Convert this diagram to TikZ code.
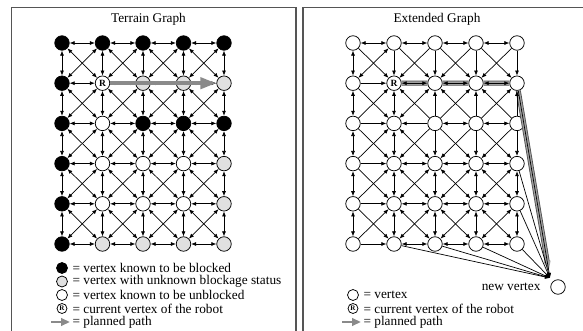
\documentclass[tikz,border=0pt]{standalone}
\usepackage{fontspec}
\setmainfont{Liberation Serif}
\usetikzlibrary{arrows.meta}

\definecolor{Unknown}{RGB}{224,224,224}
\definecolor{PathGray}{RGB}{138,138,138}
\definecolor{FrameGray}{RGB}{85,85,85}

% 0 = blocked, 1 = unknown, 2 = unblocked, 3 = robot
\newcommand\terrainrows{{0,0,0,0,0},{0,3,1,1,1},{0,2,0,0,0},{0,2,2,2,1},{0,2,2,2,1},{0,1,1,1,1}}

% edge of the extended graph: no arrow into a blocked vertex from a free one
\newcommand\extedge[4]{%
  \edef\su{\csname st-#1-#2\endcsname}\edef\sv{\csname st-#3-#4\endcsname}%
  \def\tips{twoway}%
  \ifnum\su>0 \ifnum\sv=0 \def\tips{tostart}\fi\fi
  \ifnum\sv>0 \ifnum\su=0 \def\tips{toend}\fi\fi
  \edef\tmp{\noexpand\draw[edge,\tips] (E-#1-#2) -- (E-#3-#4);}\tmp}

\begin{document}
\begin{tikzpicture}[x=1pt, y=-1pt,
    font=\fontsize{13.3}{13.5}\selectfont,
    vertex/.style={circle, draw, line width=0.75pt, minimum size=14.5pt, inner sep=0pt},
    v0/.style={vertex, fill=black},
    v1/.style={vertex, fill=Unknown},
    v2/.style={vertex, fill=white},
    v3/.style={vertex, fill=white, font=\fontsize{9.5}{9.5}\selectfont\bfseries},
    e0/.style={v2}, e1/.style={v2}, e2/.style={v2}, e3/.style={v3},
    keysym/.style={minimum size=11pt},
    edge/.style={line width=0.7pt},
    twoway/.style={{Latex[length=5pt,width=4pt]}-{Latex[length=5pt,width=4pt]}},
    toend/.style={-{Latex[length=5pt,width=4pt]}},
    tostart/.style={{Latex[length=5pt,width=4pt]}-},
    planl/.style={line width=4.5pt, PathGray, -{Triangle[length=16pt,width=11pt]}},
    keyarrow/.style={line width=2.8pt, PathGray, -{Triangle[length=9pt,width=7.5pt]}},
    frame/.style={line width=1.2pt, FrameGray}
  ]
  \useasboundingbox (0,0) rectangle (583,331);

  % panels
  \draw[frame] (11.5,331) -- (11.5,7.5) -- (296,7.5) -- (296,331);
  \draw[frame] (303,331) -- (303,7.5) -- (583,7.5);
  \node (ltitle) at (148.5,19) {Terrain Graph};
  \node (rtitle) at (437,19) {Extended Graph};

  % vertices of both graphs
  \foreach \row [count=\j from 0] in \terrainrows {
    \foreach \s [count=\i from 0] in \row {
      \expandafter\xdef\csname st-\i-\j\endcsname{\s}
      \node[v\s] (L-\i-\j) at (62+40.5*\i, 43+40.2*\j) {\ifnum\s=3 R\fi};
      \node[e\s] (E-\i-\j) at (353+41*\i, 43+40.2*\j) {\ifnum\s=3 R\fi};
    }
  }
  \coordinate (hub) at (550,278);
  \node[v2] (newv) at (558,287) {};
  \node[anchor=east] (newlabel) at (544,287) {new vertex};

  % planned path in the extended graph
  \draw[line width=5pt, black!70, shorten >=15pt]
    (E-1-1) -- (E-2-1) -- (E-3-1) -- (E-4-1) -- (hub);
  \draw[line width=3.4pt, PathGray!80, shorten >=7pt, -{Triangle[length=10pt,width=6pt]}]
    (E-1-1) -- (E-2-1) -- (E-3-1) -- (E-4-1) -- (hub);

  % edges
  \foreach \i in {0,...,4} {
    \foreach \j in {0,...,5} {
      \pgfmathtruncatemacro\ni{\i+1}
      \pgfmathtruncatemacro\nj{\j+1}
      \pgfmathtruncatemacro\pj{\j-1}
      \ifnum\i<4 \draw[edge,twoway] (L-\i-\j) -- (L-\ni-\j); \extedge{\i}{\j}{\ni}{\j}\fi
      \ifnum\j<5 \draw[edge,twoway] (L-\i-\j) -- (L-\i-\nj); \extedge{\i}{\j}{\i}{\nj}\fi
      \ifnum\i<4 \ifnum\j<5 \draw[edge,twoway] (L-\i-\j) -- (L-\ni-\nj); \extedge{\i}{\j}{\ni}{\nj}\fi\fi
      \ifnum\i<4 \ifnum\j>0 \draw[edge,twoway] (L-\i-\j) -- (L-\ni-\pj); \extedge{\i}{\j}{\ni}{\pj}\fi\fi
    }
  }
  \foreach \a/\b in {4/1,4/3,4/4,4/5,3/5,2/5,1/5}
    \draw[edge,toend] (E-\a-\b) -- (hub);

  % planned path in the terrain graph
  \draw[planl] (L-1-1) -- (L-4-1);

  % legend, terrain graph
  \node[v0, keysym] (kb) at (62,268) {};
  \node[v1, keysym] (ku) at (62,281.5) {};
  \node[v2, keysym] (kf) at (62,295) {};
  \node[vertex, minimum size=10pt, font=\fontsize{7}{7}\selectfont\bfseries] (kr) at (62,308.5) {R};
  \coordinate (kpa) at (51,322);
  \coordinate (kpb) at (70,322);
  \draw[keyarrow] (kpa) -- (kpb);
  \node[anchor=west] (kbt) at (69,268) {= vertex known to be blocked};
  \node[anchor=west] (kut) at (69,281.5) {= vertex with unknown blockage status};
  \node[anchor=west] (kft) at (69,295) {= vertex known to be unblocked};
  \node[anchor=west] (krt) at (69,308.5) {= current vertex of the robot};
  \node[anchor=west] (kpt) at (69,322) {= planned path};

  % legend, extended graph
  \node[v2, keysym] (xf) at (353,295) {};
  \node[vertex, minimum size=10pt, font=\fontsize{7}{7}\selectfont\bfseries] (xr) at (353,308.5) {R};
  \coordinate (xpa) at (342,322);
  \coordinate (xpb) at (361,322);
  \draw[keyarrow] (xpa) -- (xpb);
  \node[anchor=west] (xft) at (360,295) {= vertex};
  \node[anchor=west] (xrt) at (360,308.5) {= current vertex of the robot};
  \node[anchor=west] (xpt) at (360,322) {= planned path};
\end{tikzpicture}
\end{document}
